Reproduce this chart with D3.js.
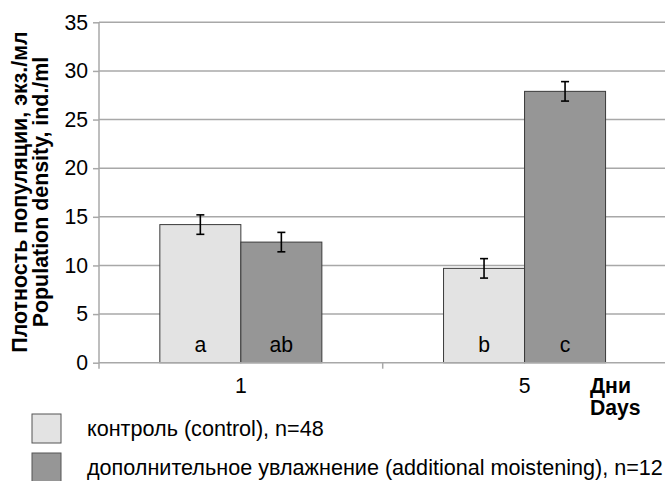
<!DOCTYPE html>
<html><head><meta charset="utf-8">
<script src="https://cdn.jsdelivr.net/npm/d3@7"></script>
<style>body{margin:0;background:#fff}svg{display:block;font-family:"Liberation Sans",Arial,sans-serif}</style>
</head><body><svg id="c" width="665" height="481"></svg>
<script>
const days = ["1", "5"];
const seriesNames = ["контроль (control), n=48", "дополнительное увлажнение (additional moistening), n=12"];
const seriesKeys = ["control", "moist"];
const controlValues = [14.2, 9.7];
const moistValues = [12.4, 27.9];
const controlErrors = [1.0, 1.0];
const moistErrors = [1.0, 1.0];
const controlLetters = ["a", "b"];
const moistLetters = ["ab", "c"];
const yTicks = [0, 5, 10, 15, 20, 25, 30, 35];
const colors = ["#e3e3e3", "#969696"];

const FS = 21.2;
const svg = d3.select("#c");
const x0 = d3.scaleBand().domain(days).range([99, 666.4]).paddingInner(0).paddingOuter(0);
const x1 = d3.scaleBand().domain(seriesKeys).range([0, x0.bandwidth()]).paddingInner(0).paddingOuter(0.751);
const y = d3.scaleLinear().domain([0, 35]).range([362.7, 22.3]);

// gridlines
svg.append("g").selectAll("line").data(yTicks.slice(1)).join("line")
  .attr("x1", 99).attr("x2", 665).attr("y1", d => y(d)).attr("y2", d => y(d))
  .attr("stroke", "#a8a8a8").attr("stroke-width", 1.5);

// y axis
const ya = svg.append("g").attr("transform", "translate(99,0)")
  .call(d3.axisLeft(y).tickValues(yTicks).tickSize(6).tickPadding(5).tickFormat(d3.format("d")));
ya.select(".domain").attr("stroke", "#a8a8a8").attr("stroke-width", 1.5).attr("d", `M0,${y(35)}V${y(0)+6}`);
ya.selectAll(".tick line").attr("stroke", "#a8a8a8").attr("stroke-width", 1.5);
ya.selectAll(".tick text").attr("font-size", FS).attr("fill", "#000").attr("font-family", "Liberation Sans, Arial, sans-serif");

const data = days.map((d, i) => ({
  day: d,
  items: [
    {key: "control", v: controlValues[i], e: controlErrors[i], l: controlLetters[i], c: colors[0]},
    {key: "moist", v: moistValues[i], e: moistErrors[i], l: moistLetters[i], c: colors[1]}
  ]
}));

const g = svg.append("g").selectAll("g").data(data).join("g")
  .attr("transform", d => `translate(${x0(d.day)},0)`);
g.selectAll("rect").data(d => d.items).join("rect")
  .attr("x", d => x1(d.key)).attr("width", x1.bandwidth())
  .attr("y", d => y(d.v)).attr("height", d => y(0) - y(d.v))
  .attr("fill", d => d.c).attr("stroke", "#3a3a3a").attr("stroke-width", 1);
// error bars
const cx = d => x1(d.key) + x1.bandwidth() / 2;
const eb = g.selectAll("g.err").data(d => d.items).join("g").attr("class", "err")
  .attr("stroke", "#000").attr("stroke-width", 1.6);
eb.append("line").attr("x1", cx).attr("x2", cx)
  .attr("y1", d => y(d.v + d.e)).attr("y2", d => y(d.v - d.e));
eb.append("line").attr("x1", d => cx(d) - 4).attr("x2", d => cx(d) + 4)
  .attr("y1", d => y(d.v + d.e)).attr("y2", d => y(d.v + d.e));
eb.append("line").attr("x1", d => cx(d) - 4).attr("x2", d => cx(d) + 4)
  .attr("y1", d => y(d.v - d.e)).attr("y2", d => y(d.v - d.e));
// letters
g.selectAll("text.lt").data(d => d.items).join("text").attr("class", "lt")
  .attr("x", cx).attr("y", 352)
  .attr("text-anchor", "middle").attr("font-size", FS).text(d => d.l);

// x axis
const xa = svg.append("g").attr("transform", `translate(0,${y(0)})`)
  .call(d3.axisBottom(x0).tickSize(0).tickPadding(15));
xa.select(".domain").attr("stroke", "#a8a8a8").attr("stroke-width", 1.5).attr("d", "M99,0H665");
xa.selectAll(".tick text").attr("font-size", FS).attr("fill", "#000").attr("font-family", "Liberation Sans, Arial, sans-serif");
svg.append("g").selectAll("line").data(days.slice(1)).join("line")
  .attr("x1", d => x0(d)).attr("x2", d => x0(d)).attr("y1", y(0)).attr("y2", y(0) + 6)
  .attr("stroke", "#a8a8a8").attr("stroke-width", 1.5);

// x axis title
svg.append("text").attr("x", 590).attr("y", 393).attr("font-size", FS).attr("font-weight", "bold").text("Дни");
svg.append("text").attr("x", 590).attr("y", 415).attr("font-size", FS).attr("font-weight", "bold").text("Days");

// y axis title
const yt = svg.append("text").attr("transform", "translate(0,192) rotate(-90)")
  .attr("text-anchor", "middle").attr("font-size", 21.4).attr("font-weight", "bold");
yt.append("tspan").attr("x", 0).attr("y", 27).text("Плотность популяции, экз./мл");
yt.append("tspan").attr("x", 0).attr("y", 48).text("Population density, ind./ml");

// legend
const lg = svg.append("g").selectAll("g").data(seriesNames).join("g")
  .attr("transform", (d, i) => `translate(32,${414 + i * 39})`);
lg.append("rect").attr("width", 29).attr("height", 29).attr("fill", (d, i) => colors[i]).attr("stroke", "#555").attr("stroke-width", 1);
lg.append("text").attr("x", 55).attr("y", 22).attr("font-size", 21.6).text(d => d);
</script></body></html>
